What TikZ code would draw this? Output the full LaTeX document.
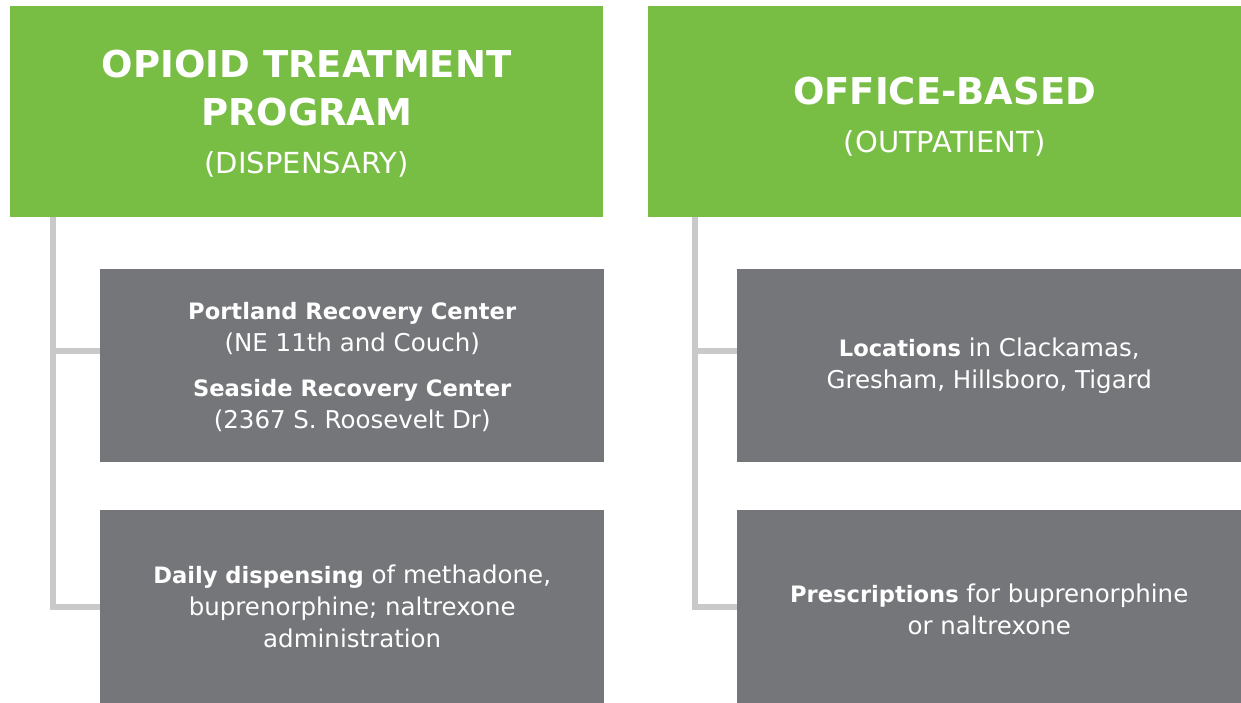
\documentclass[tikz,border=0pt]{standalone}
\usepackage{fontspec}
\setmainfont{DejaVu Sans}
\definecolor{otpgreen}{HTML}{78BE45}
\definecolor{sitegray}{HTML}{75767A}
\definecolor{linkgray}{HTML}{C8C9C8}
\newcommand{\emtxt}[1]{{\bfseries\fontsize{22.6}{32}\selectfont #1}}
\newcommand{\subtxt}[1]{{\mdseries\fontsize{29}{48}\selectfont #1}}
\begin{document}
\begin{tikzpicture}[x=1pt, y=-1pt,
    head/.style={fill=otpgreen, anchor=north west, inner sep=0pt,
        minimum width=593pt, minimum height=211pt},
    site/.style={fill=sitegray, anchor=north west, inner sep=0pt,
        minimum width=504pt, minimum height=193pt},
    headtxt/.style={text=white, inner sep=0pt, align=center,
        font=\fontsize{37}{48}\selectfont\bfseries},
    sitetxt/.style={text=white, inner sep=0pt, align=center,
        font=\fontsize{24.5}{32}\selectfont},
    link/.style={draw=linkgray, line width=6pt}]
\useasboundingbox (0,0) rectangle (1241,702);

% Program headers (green)
\node[head] (otp) at (10,6) {};
\node[head] (obo) at (648,6) {};
\node[headtxt] (otptxt) at ([yshift=-2pt]otp.center) {OPIOID TREATMENT\\PROGRAM\\\subtxt{(DISPENSARY)}};
\node[headtxt] (obotxt) at ([yshift=-5pt]obo.center) {OFFICE-BASED\\\subtxt{(OUTPATIENT)}};

% Site and service boxes (gray)
\node[site] (prc) at (100,269) {};
\node[site] (dly) at (100,510) {};
\node[site] (loc) at (737,269) {};
\node[site] (rx) at (737,510) {};
\node[sitetxt] (prctxt) at ([yshift=-1pt]prc.center) {\emtxt{Portland Recovery Center}\\(NE 11th and Couch)\\[13pt]\emtxt{Seaside Recovery Center}\\(2367 S. Roosevelt Dr)};
\node[sitetxt] (dlytxt) at (dly.center) {\emtxt{Daily dispensing} of methadone,\\buprenorphine; naltrexone\\administration};
\node[sitetxt] (loctxt) at (loc.center) {\emtxt{Locations} in Clackamas,\\Gresham, Hillsboro, Tigard};
\node[sitetxt] (rxtxt) at ([yshift=-3pt]rx.center) {\emtxt{Prescriptions} for buprenorphine\\or naltrexone};

% Tree connectors
\foreach \hd/\up/\lo/\dx in {otp/prc/dly/43, obo/loc/rx/47} {
    \coordinate (\hd trunk) at ([xshift=\dx pt]\hd.south west);
    \coordinate (\up tap) at ([yshift=15pt]\up.west);
    \draw[link] (\hd trunk) |- (\lo.west);
    \draw[link] (\hd trunk |- \up tap) -- (\up tap);
}

\end{tikzpicture}
\end{document}
